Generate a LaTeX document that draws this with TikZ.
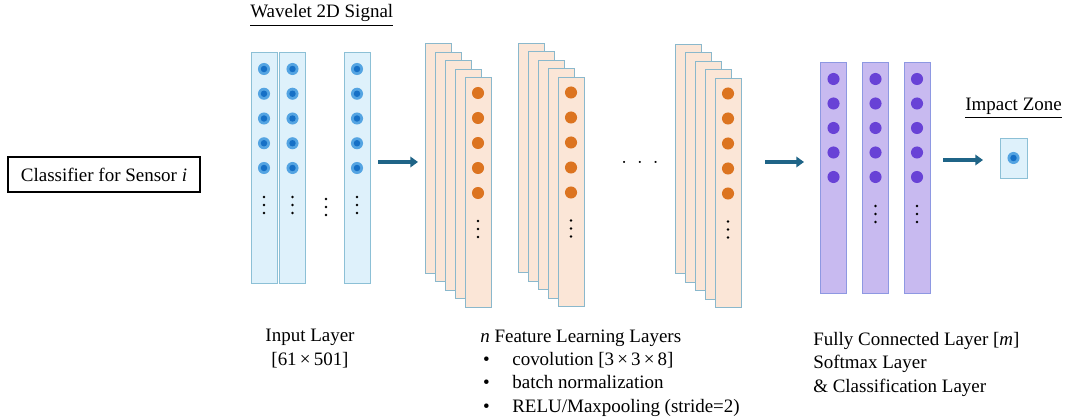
\documentclass[tikz,border=0pt]{standalone}
\usepackage{fontspec}
\setmainfont{Liberation Serif}
\usepackage{amsmath}
\usepackage{xcolor}
\usepackage{tikz}
\usetikzlibrary{arrows.meta}

\definecolor{inFill}{RGB}{222,241,251}
\definecolor{inDraw}{RGB}{140,192,214}
\definecolor{dotOuter}{RGB}{84,164,226}
\definecolor{dotInner}{RGB}{22,112,198}
\definecolor{fmFill}{RGB}{251,230,215}
\definecolor{fmDraw}{RGB}{138,184,204}
\definecolor{fmDot}{RGB}{220,116,32}
\definecolor{fcFill}{RGB}{200,186,240}
\definecolor{fcDraw}{RGB}{142,152,226}
\definecolor{fcDot}{RGB}{104,66,214}
\definecolor{flowCol}{RGB}{31,100,135}

\newcommand{\bul}{\makebox[22.8pt][l]{\hspace{2pt}\textbullet}}

\begin{document}
\begin{tikzpicture}[x=0.025cm,y=-0.025cm,font=\fontsize{13.5}{16.4}\selectfont]
	\useasboundingbox (0,0) rectangle (1071,419);
	\tikzstyle{incol}=[draw=inDraw,fill=inFill,line width=0.7pt,minimum width=0.65cm,minimum height=5.75cm,inner sep=0]
	\tikzstyle{indot}=[circle,fill=dotOuter,minimum size=8.6pt,inner sep=0,path picture={\fill[dotInner] (path picture bounding box.center) circle (2.3pt);}]
	\tikzstyle{fmap}=[draw=fmDraw,fill=fmFill,line width=0.7pt,minimum width=0.65cm,minimum height=5.725cm,inner sep=0]
	\tikzstyle{fmdot}=[circle,fill=fmDot,minimum size=8.6pt,inner sep=0]
	\tikzstyle{fccol}=[draw=fcDraw,fill=fcFill,line width=0.7pt,minimum width=0.65cm,minimum height=5.75cm,inner sep=0]
	\tikzstyle{fcdot}=[circle,fill=fcDot,minimum size=8.6pt,inner sep=0]
	\tikzstyle{flow}=[draw=flowCol,line width=2.2pt,-{Triangle[length=5.5pt,width=7.5pt]}]
	\tikzstyle{label}=[anchor=base west,inner sep=0,align=left]
	% titles and classifier box
	\node[label] (wav) at (250,18) {\underline{Wavelet 2D Signal}};
	\node[label] (zone) at (965,111) {\underline{Impact Zone}};
	\node[draw,line width=0.9pt,minimum width=4.8cm,minimum height=0.875cm] (clf) at (104,174.5) {Classifier for Sensor \textit{i}};
	% input layer
	\foreach \c/\x in {1/264,2/292.5,3/357}{
		\node[incol] (in\c) at (\x,168) {};
		\foreach \k in {1,...,5}
			\node[indot] (in\c-\k) at (\x,44.25+24.75*\k) {};
		\foreach \v in {197,205,213}
			\fill (\x,\v) circle (1pt);
	}
	\foreach \v in {199,207,215}
		\fill (326,\v) circle (1pt);
	% feature learning stacks
	\foreach \s/\x/\y in {1/438/158.5,2/531/158,3/688/159}{
		\foreach \j in {0,...,4}
			\node[fmap] (fm\s-\j) at (\x+10*\j,\y+8.5*\j) {};
		\foreach \k in {1,...,5}
			\node[fmdot] (fm\s-d\k) at (\x+40,\y-90.5+25*\k) {};
		\foreach \v in {62.5,70.5,78.5}
			\fill (\x+40,\y+\v) circle (1pt);
	}
	\node[inner sep=0] (more) at (640,163) {$\cdot\mkern5mu\cdot\mkern5mu\cdot$};
	% fully connected layer
	\foreach \c/\x in {1/833.5,2/875.5,3/917}{
		\node[fccol] (fc\c) at (\x,178) {};
		\foreach \k in {1,...,5}
			\node[fcdot] (fc\c-\k) at (\x,54.5+24.5*\k) {};
	}
	\foreach \c/\x in {2/875.5,3/917}
		\foreach \v in {206,214,222}
			\fill (\x,\v) circle (1pt);
	% output
	\node[incol,minimum width=0.675cm,minimum height=1cm] (out) at (1013.5,158) {};
	\node[indot] (outdot) at (out.center) {};
	% arrows
	\coordinate (a1s) at (378,162); \coordinate (a1e) at (418,162);
	\coordinate (a2s) at (765,162); \coordinate (a2e) at (804,162);
	\coordinate (a3s) at (943,160); \coordinate (a3e) at (983,160);
	\draw[flow] (a1s) -- (a1e);
	\draw[flow] (a2s) -- (a2e);
	\draw[flow] (a3s) -- (a3e);
	% captions (base = last line)
	\node[anchor=base,inner sep=0,align=center] (inlbl) at (310,365) {Input Layer\\{[61\,×\,501]}};
	\node[label] (feat) at (480,412) {\textit{n} Feature Learning Layers\\
		\bul covolution [3\,×\,3\,×\,8]\\
		\bul batch normalization\\
		\bul RELU/Maxpooling (stride=2)};
	\node[label] (fclbl) at (813,392) {Fully Connected Layer [\textit{m}]\\
		Softmax Layer\\
		\& Classification Layer};
\end{tikzpicture}
\end{document}
